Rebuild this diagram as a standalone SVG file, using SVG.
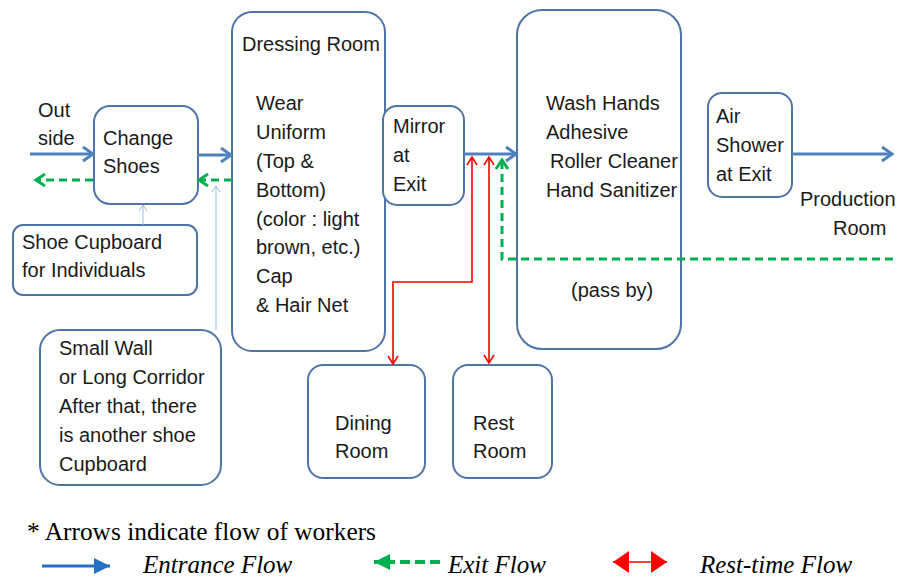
<svg xmlns="http://www.w3.org/2000/svg" width="906" height="579" viewBox="0 0 906 579">
<style>
.box{fill:#fff;stroke:#4f74a6;stroke-width:2}
.t{font-family:"Liberation Sans",Arial,sans-serif;font-size:20px;fill:#1a1a1a}
.f{font-family:"Liberation Serif","Times New Roman",serif;font-size:25px;fill:#000}
.fi{font-family:"Liberation Serif","Times New Roman",serif;font-size:25px;font-style:italic;fill:#000}
.blue{fill:none;stroke:#4f81bd;stroke-width:3}
.green{fill:none;stroke:#00b050;stroke-width:3;stroke-dasharray:8 5}
.red{fill:none;stroke:#ff0000;stroke-width:1.6}
.thin{fill:none;stroke:#9dbde4;stroke-width:1}
</style>
<defs>
<marker id="mb" markerUnits="userSpaceOnUse" markerWidth="16" markerHeight="18" refX="13" refY="8" orient="auto"><path d="M3,1 L13,8 L3,15" fill="none" stroke="#4f81bd" stroke-width="3"/></marker>
<marker id="mg" markerUnits="userSpaceOnUse" markerWidth="16" markerHeight="18" refX="13" refY="8" orient="auto"><path d="M4,2 L13,8 L4,14" fill="none" stroke="#00b050" stroke-width="3"/></marker>
<marker id="mr" markerUnits="userSpaceOnUse" markerWidth="14" markerHeight="14" refX="11" refY="7" orient="auto-start-reverse"><path d="M3,2 L11,7 L3,12" fill="none" stroke="#ff0000" stroke-width="1.6"/></marker>
<marker id="mt" markerUnits="userSpaceOnUse" markerWidth="10" markerHeight="10" refX="8" refY="5" orient="auto"><path d="M2,1 L8,5 L2,9" fill="none" stroke="#9dbde4" stroke-width="1"/></marker>
<marker id="lb" markerUnits="userSpaceOnUse" markerWidth="20" markerHeight="20" refX="16" refY="10" orient="auto"><path d="M0,2 L16,10 L0,18 Z" fill="#2172c4"/></marker>
<marker id="lg" markerUnits="userSpaceOnUse" markerWidth="20" markerHeight="20" refX="16" refY="10" orient="auto"><path d="M0,2 L16,10 L0,18 Z" fill="#00b050"/></marker>
<marker id="lr" markerUnits="userSpaceOnUse" markerWidth="20" markerHeight="24" refX="16" refY="12" orient="auto-start-reverse"><path d="M0,1 L16,12 L0,23 Z" fill="#ff0000"/></marker>
</defs>

<g id="change-shoes"><rect class="box" x="94" y="106" width="104" height="98" rx="16"/>
<text class="t" x="103" y="145">Change</text><text class="t" x="103" y="173">Shoes</text></g>
<g id="outside"><text class="t" x="38" y="117">Out</text><text class="t" x="38" y="145">side</text></g>
<g id="dressing-room"><rect class="box" x="232" y="12" width="153" height="339" rx="20"/>
<text class="t" x="242" y="51">Dressing Room</text>
<text class="t" x="256" y="110">Wear</text>
<text class="t" x="256" y="139">Uniform</text>
<text class="t" x="256" y="168">(Top &amp;</text>
<text class="t" x="256" y="197">Bottom)</text>
<text class="t" x="256" y="226">(color : light</text>
<text class="t" x="256" y="254">brown, etc.)</text>
<text class="t" x="256" y="283">Cap</text>
<text class="t" x="256" y="312">&amp; Hair Net</text></g>
<g id="mirror"><rect class="box" x="383" y="106" width="81" height="99" rx="14"/>
<text class="t" x="393" y="133">Mirror</text><text class="t" x="393" y="162">at</text><text class="t" x="393" y="191">Exit</text></g>
<g id="wash"><rect class="box" x="517" y="10" width="164" height="339" rx="25"/>
<text class="t" x="546" y="110">Wash Hands</text>
<text class="t" x="546" y="139">Adhesive</text>
<text class="t" x="550" y="168">Roller Cleaner</text>
<text class="t" x="546" y="197">Hand Sanitizer</text>
<text class="t" x="571" y="297">(pass by)</text></g>
<g id="air-shower"><rect class="box" x="708" y="93" width="84" height="104" rx="14"/>
<text class="t" x="716" y="123">Air</text><text class="t" x="716" y="152">Shower</text><text class="t" x="716" y="181">at Exit</text></g>
<g id="production"><text class="t" x="800" y="206">Production</text><text class="t" x="833" y="235">Room</text></g>
<g id="shoe-cupboard"><rect class="box" x="13" y="225" width="184" height="70" rx="10"/>
<text class="t" x="22" y="249">Shoe Cupboard</text><text class="t" x="22" y="277">for Individuals</text></g>
<g id="small-wall"><rect class="box" x="40" y="330" width="181" height="155" rx="20"/>
<text class="t" x="59" y="355">Small Wall</text>
<text class="t" x="59" y="384">or Long Corridor</text>
<text class="t" x="59" y="413">After that, there</text>
<text class="t" x="59" y="442">is another shoe</text>
<text class="t" x="59" y="471">Cupboard</text></g>
<g id="dining"><rect class="box" x="308" y="365" width="117" height="113" rx="15"/>
<text class="t" x="335" y="430">Dining</text><text class="t" x="335" y="458">Room</text></g>
<g id="rest"><rect class="box" x="453" y="365" width="99" height="113" rx="15"/>
<text class="t" x="473" y="430">Rest</text><text class="t" x="473" y="458">Room</text></g>

<g id="connectors">
<path class="blue" d="M30,154 H93" marker-end="url(#mb)"/>
<path class="blue" d="M198,155 H231" marker-end="url(#mb)"/>
<path class="green" d="M93,180 H36" marker-end="url(#mg)"/>
<path class="green" d="M232,180 H199" marker-end="url(#mg)"/>
<path class="thin" d="M143,225 V205" marker-end="url(#mt)"/>
<path class="thin" d="M216,330 V186" marker-end="url(#mt)"/>
<path class="blue" d="M464,154 H516" marker-end="url(#mb)"/>
<path class="red" d="M472,157 V282 H393 V364" marker-start="url(#mr)" marker-end="url(#mr)"/>
<path class="red" d="M489,157 V363" marker-start="url(#mr)" marker-end="url(#mr)"/>
<path class="green" d="M893,259 H502 V160" marker-end="url(#mg)"/>
<path class="blue" d="M792,154 H892" marker-end="url(#mb)"/>
</g>

<g id="legend">
<text class="f" x="27" y="540" textLength="349" lengthAdjust="spacingAndGlyphs">* Arrows indicate flow of workers</text>
<path d="M42,566 H110" stroke="#2172c4" stroke-width="3" fill="none" marker-end="url(#lb)"/>
<text class="fi" x="143" y="573">Entrance Flow</text>
<path d="M440,562 H374" stroke="#00b050" stroke-width="4" stroke-dasharray="10 5" fill="none" marker-end="url(#lg)"/>
<text class="fi" x="448" y="573">Exit Flow</text>
<path d="M613,562 H667" stroke="#ff0000" stroke-width="1.6" fill="none" marker-start="url(#lr)" marker-end="url(#lr)"/>
<text class="fi" x="700" y="573">Rest-time Flow</text>
</g>
</svg>
